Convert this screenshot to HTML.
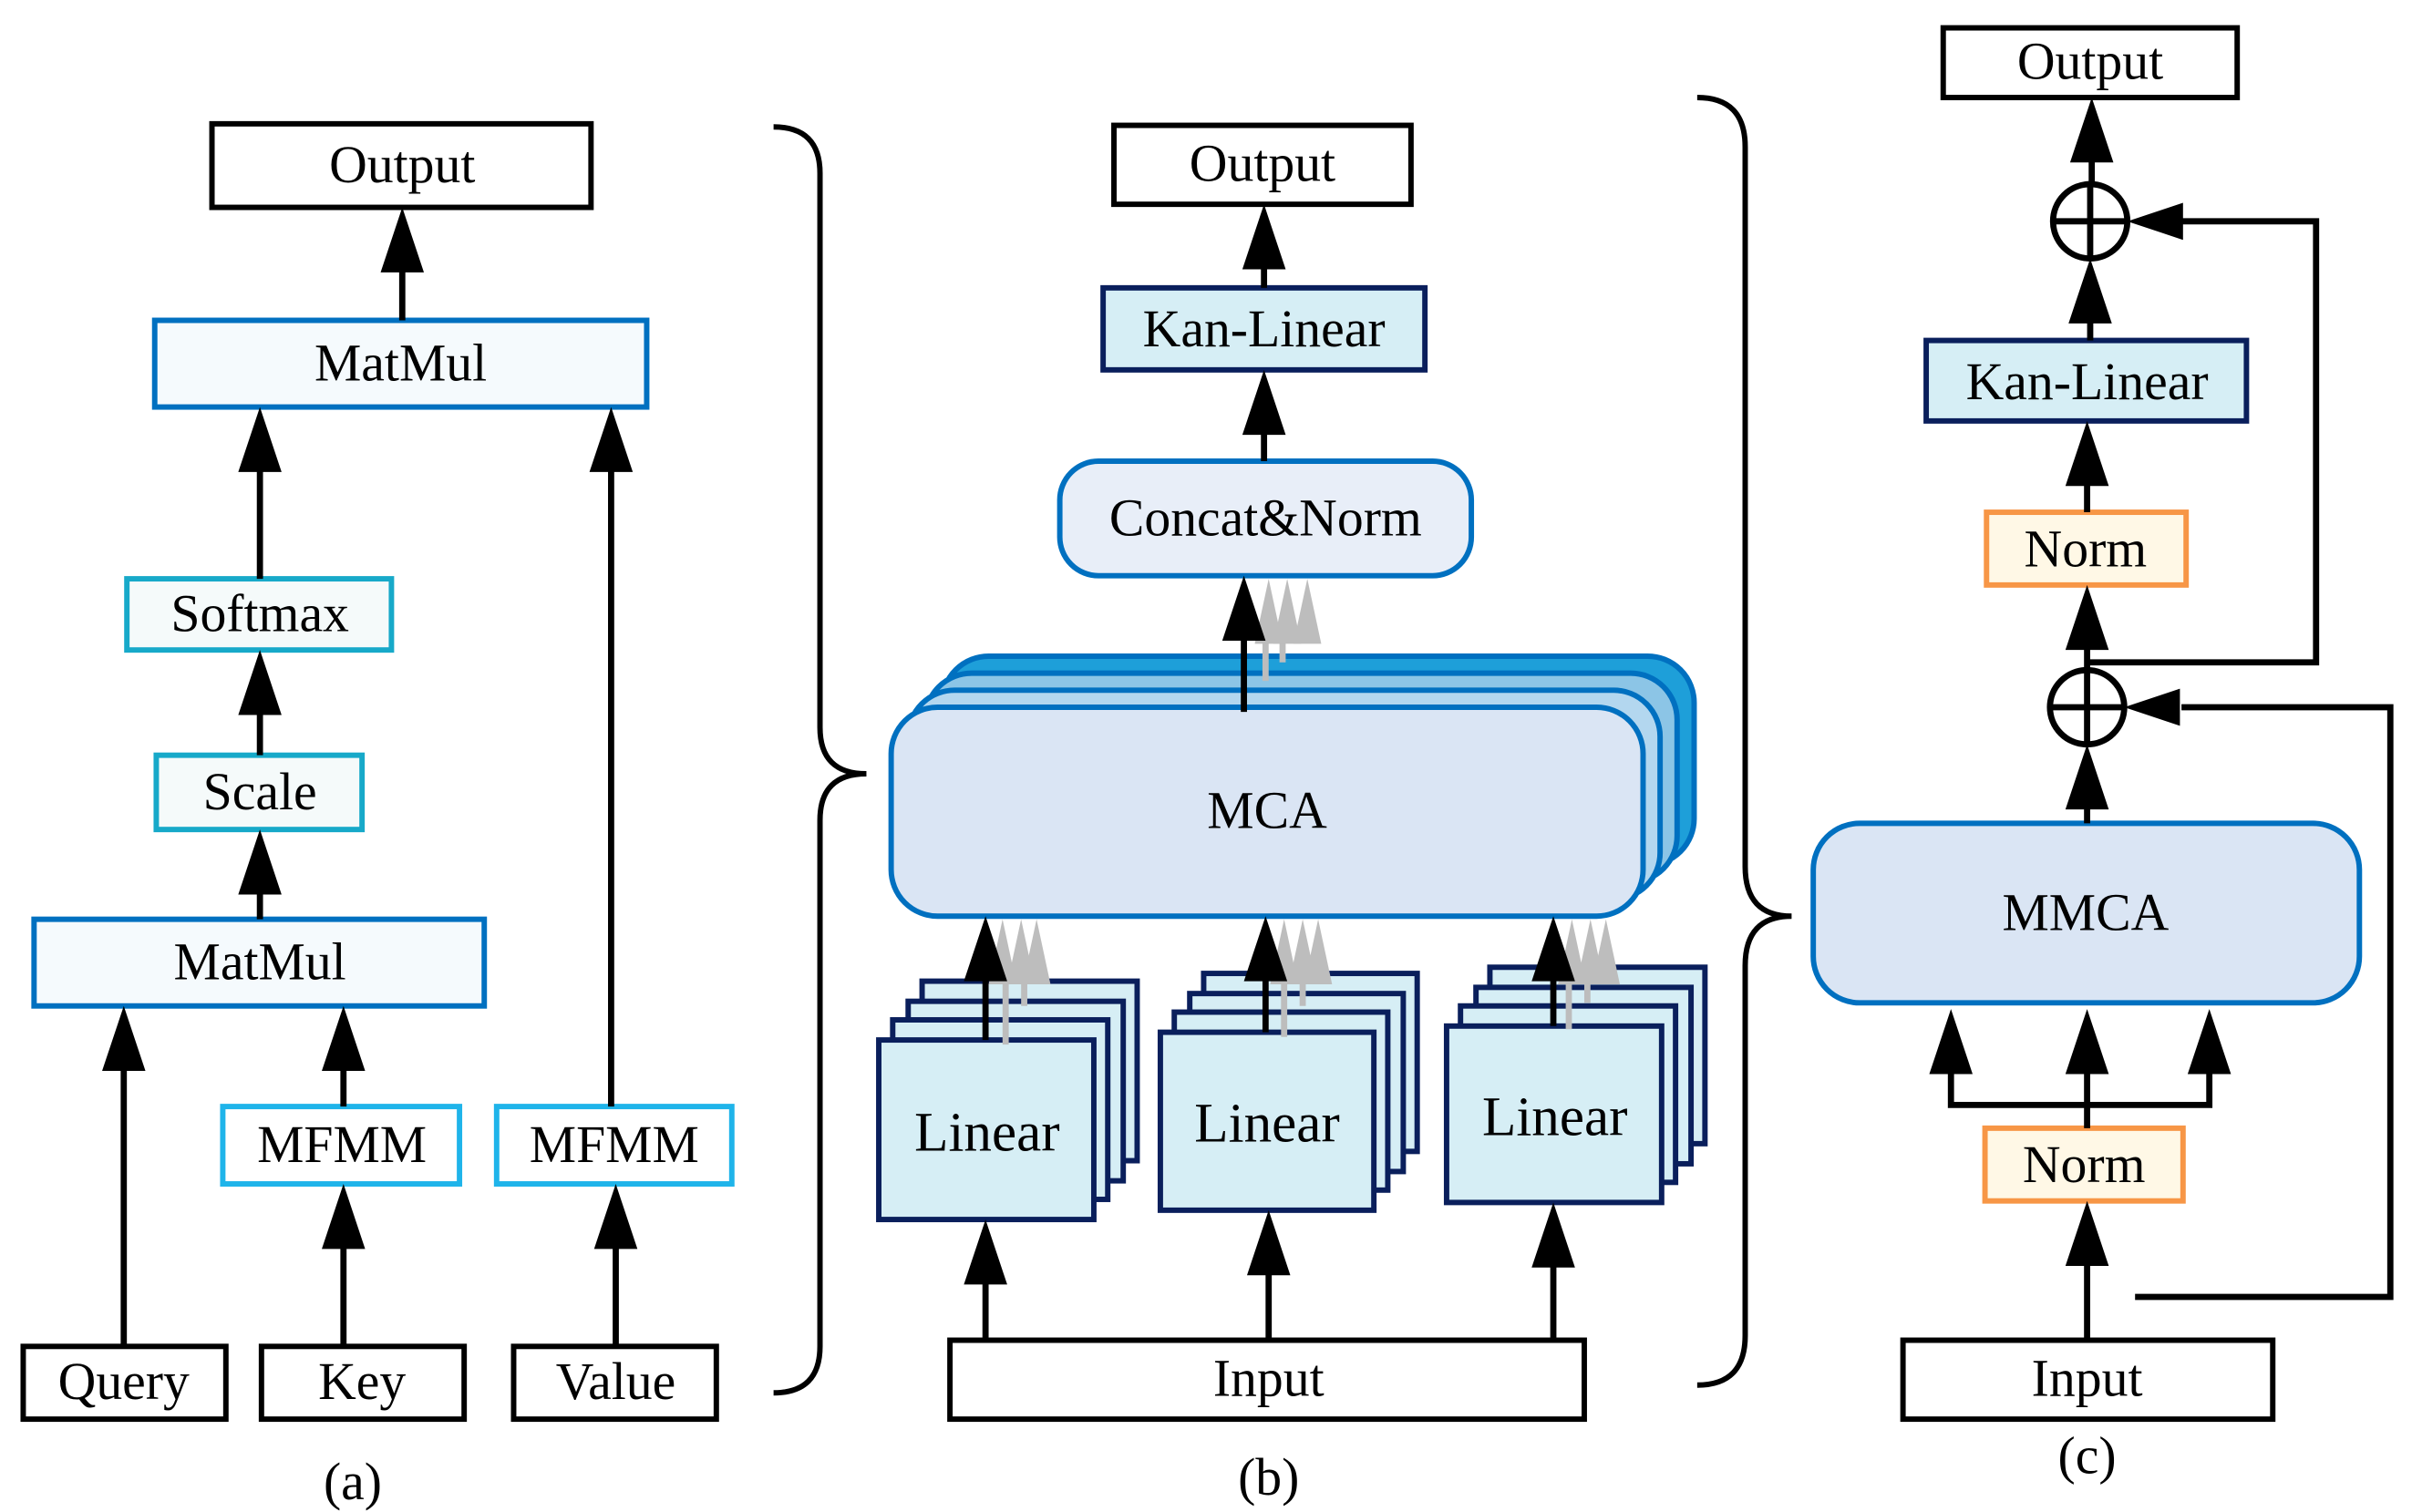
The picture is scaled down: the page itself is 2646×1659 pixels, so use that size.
<!DOCTYPE html>
<html><head><meta charset="utf-8"><style>
html,body{margin:0;padding:0;background:#fff}
svg{display:block}
text{font-family:"Liberation Serif",serif;font-size:34px;fill:#000;text-anchor:middle;dominant-baseline:central}
text.big{font-size:36px}
</style></head><body>
<svg width="2646" height="1659" viewBox="0 0 1559 977" preserveAspectRatio="none" xmlns="http://www.w3.org/2000/svg">
<defs>
<g id="ah"><polygon points="-14,42 14,42 0,0" fill="#000"/></g>
<g id="gh"><polygon points="-9,42 9,42 0,0" fill="#bdbdbd"/></g>
</defs>
<!-- ========== (a) ========== -->
<g stroke-width="3.5" fill="none">
<rect x="137" y="80" width="245" height="54" stroke="#000" fill="#fff"/>
<rect x="100" y="207" width="318" height="56" stroke="#0070c0" fill="#f5fafd"/>
<rect x="82" y="374" width="171" height="46" stroke="#17a9c9" fill="#f5fafa"/>
<rect x="101" y="488" width="133" height="48" stroke="#17a9c9" fill="#f5fafa"/>
<rect x="22" y="594" width="291" height="56" stroke="#0070c0" fill="#f5fafd"/>
<rect x="144" y="715" width="153" height="50" stroke="#1fb4ea" fill="#fff"/>
<rect x="321" y="715" width="152" height="50" stroke="#1fb4ea" fill="#fff"/>
<rect x="15" y="870" width="131" height="47" stroke="#000" fill="#fff"/>
<rect x="169" y="870" width="131" height="47" stroke="#000" fill="#fff"/>
<rect x="332" y="870" width="131" height="47" stroke="#000" fill="#fff"/>
</g>
<g stroke="#000" stroke-width="4">
<line x1="260" y1="207" x2="260" y2="170"/>
<line x1="168" y1="374" x2="168" y2="300"/>
<line x1="168" y1="488" x2="168" y2="455"/>
<line x1="168" y1="594" x2="168" y2="572"/>
<line x1="80" y1="870" x2="80" y2="690"/>
<line x1="222" y1="870" x2="222" y2="800"/>
<line x1="222" y1="715" x2="222" y2="690"/>
<line x1="398" y1="870" x2="398" y2="800"/>
<line x1="395" y1="715" x2="395" y2="300"/>
</g>
<use href="#ah" x="260" y="134"/>
<use href="#ah" x="168" y="263"/>
<use href="#ah" x="168" y="420"/>
<use href="#ah" x="168" y="536"/>
<use href="#ah" x="80" y="650"/>
<use href="#ah" x="222" y="765"/>
<use href="#ah" x="222" y="650"/>
<use href="#ah" x="398" y="765"/>
<use href="#ah" x="395" y="263"/>
<text x="260" y="107">Output</text>
<text x="259" y="235">MatMul</text>
<text x="168" y="397">Softmax</text>
<text x="168" y="512">Scale</text>
<text x="168" y="622">MatMul</text>
<text x="221" y="740">MFMM</text>
<text x="397" y="740">MFMM</text>
<text x="80" y="893">Query</text>
<text x="234" y="893">Key</text>
<text x="398" y="893">Value</text>
<text x="228" y="958">(a)</text>
<!-- braces -->
<path d="M500,82 Q530,82 530,112 L530,470 Q530,500 560,500 Q530,500 530,530 L530,870 Q530,900 500,900" stroke="#000" stroke-width="3.5" fill="none"/>
<path d="M1097,63 Q1128,63 1128,95 L1128,560 Q1128,592 1158,592 Q1128,592 1128,624 L1128,863 Q1128,895 1097,895" stroke="#000" stroke-width="3.5" fill="none"/>
<!-- ========== (b) ========== -->
<g stroke-width="3.5">
<rect x="720" y="81" width="192" height="51" stroke="#000" fill="#fff"/>
<rect x="713" y="186" width="208" height="53" stroke="#0a1f5c" fill="#d6eef5"/>
<rect x="685" y="298" width="266" height="74" rx="25" stroke="#0070c0" fill="#e8eef8"/>
<rect x="609" y="424" width="486" height="135" rx="30" stroke="#0070c0" fill="#1e9fd9"/>
<rect x="598" y="435" width="486" height="135" rx="30" stroke="#0070c0" fill="#8cc5e6"/>
<rect x="587" y="446" width="486" height="135" rx="30" stroke="#0070c0" fill="#b3d7ef"/>
<rect x="576" y="457" width="486" height="135" rx="30" stroke="#0070c0" fill="#dae5f4"/>
<rect x="614" y="866" width="410" height="51" stroke="#000" fill="#fff"/>
</g>
<g stroke="#0a1f5c" stroke-width="3.5" fill="#d6eef5">
<rect x="596" y="634" width="139" height="116"/>
<rect x="587" y="647" width="139" height="116"/>
<rect x="577" y="659" width="139" height="116"/>
<rect x="568" y="672" width="139" height="116"/>
<rect x="778" y="629" width="138" height="115"/>
<rect x="769" y="642" width="138" height="115"/>
<rect x="759" y="654" width="138" height="115"/>
<rect x="750" y="667" width="138" height="115"/>
<rect x="963" y="625" width="139" height="114"/>
<rect x="954" y="638" width="139" height="114"/>
<rect x="944" y="650" width="139" height="114"/>
<rect x="935" y="663" width="139" height="114"/>
</g>
<g stroke="#bdbdbd" stroke-width="4">
<line x1="818" y1="440" x2="818" y2="412"/><line x1="829" y1="428" x2="829" y2="412"/>
<line x1="650" y1="675" x2="650" y2="630"/><line x1="662" y1="650" x2="662" y2="630"/>
<line x1="830" y1="670" x2="830" y2="630"/><line x1="842" y1="650" x2="842" y2="630"/>
<line x1="1014" y1="665" x2="1014" y2="630"/><line x1="1026" y1="648" x2="1026" y2="630"/>
</g>
<use href="#gh" x="820" y="374"/><use href="#gh" x="832" y="374"/><use href="#gh" x="845" y="374"/>
<use href="#gh" x="648" y="594"/><use href="#gh" x="660" y="594"/><use href="#gh" x="670" y="594"/>
<use href="#gh" x="830" y="594"/><use href="#gh" x="842" y="594"/><use href="#gh" x="852" y="594"/>
<use href="#gh" x="1016" y="594"/><use href="#gh" x="1028" y="594"/><use href="#gh" x="1038" y="594"/>
<g stroke="#000" stroke-width="4">
<line x1="817" y1="186" x2="817" y2="170"/>
<line x1="817" y1="298" x2="817" y2="275"/>
<line x1="804" y1="460" x2="804" y2="410"/>
<line x1="637" y1="866" x2="637" y2="825"/>
<line x1="820" y1="866" x2="820" y2="820"/>
<line x1="1004" y1="866" x2="1004" y2="815"/>
<line x1="637" y1="672" x2="637" y2="630"/>
<line x1="818" y1="667" x2="818" y2="630"/>
<line x1="1004" y1="663" x2="1004" y2="630"/>
</g>
<use href="#ah" x="817" y="132"/>
<use href="#ah" x="817" y="239"/>
<use href="#ah" x="804" y="372"/>
<use href="#ah" x="637" y="788"/>
<use href="#ah" x="820" y="782"/>
<use href="#ah" x="1004" y="777"/>
<use href="#ah" x="637" y="592"/>
<use href="#ah" x="818" y="592"/>
<use href="#ah" x="1004" y="592"/>
<text x="816" y="106">Output</text>
<text x="817" y="213">Kan-Linear</text>
<text x="818" y="335">Concat&amp;Norm</text>
<text x="819" y="524">MCA</text>
<text class="big" x="638" y="732">Linear</text>
<text class="big" x="819" y="726">Linear</text>
<text class="big" x="1005" y="722">Linear</text>
<text x="820" y="891">Input</text>
<text x="820" y="955">(b)</text>
<!-- ========== (c) ========== -->
<g stroke-width="3.5">
<rect x="1256" y="18" width="190" height="45" stroke="#000" fill="#fff"/>
<rect x="1245" y="220" width="207" height="52" stroke="#0a1f5c" fill="#d6eef5"/>
<rect x="1284" y="331" width="129" height="47" stroke="#f79646" fill="#fff8e6"/>
<rect x="1172" y="532" width="353" height="116" rx="30" stroke="#0070c0" fill="#dae5f4"/>
<rect x="1283" y="729" width="128" height="47" stroke="#f79646" fill="#fff8e6"/>
<rect x="1230" y="866" width="239" height="51" stroke="#000" fill="#fff"/>
</g>
<g stroke="#000" stroke-width="4" fill="none">
<circle cx="1351" cy="143" r="24" fill="#fff"/>
<line x1="1327" y1="143" x2="1375" y2="143"/><line x1="1351" y1="119" x2="1351" y2="167"/>
<circle cx="1349" cy="457" r="24" fill="#fff"/>
<line x1="1325" y1="457" x2="1373" y2="457"/><line x1="1349" y1="433" x2="1349" y2="481"/>
<line x1="1352" y1="119" x2="1352" y2="100"/>
<line x1="1351" y1="220" x2="1351" y2="205"/>
<line x1="1349" y1="331" x2="1349" y2="310"/>
<line x1="1349" y1="433" x2="1349" y2="415"/>
<line x1="1349" y1="532" x2="1349" y2="515"/>
<polyline points="1349,428 1497,428 1497,143 1410,143"/>
<polyline points="1380,838 1545,838 1545,457 1410,457"/>
<polyline points="1261,690 1261,714 1428,714 1428,690"/>
<line x1="1349" y1="729" x2="1349" y2="690"/>
<line x1="1349" y1="866" x2="1349" y2="815"/>
</g>
<polygon points="1375,143 1411,131 1411,155" fill="#000"/>
<polygon points="1373,457 1409,445 1409,469" fill="#000"/>
<use href="#ah" x="1352" y="63"/>
<use href="#ah" x="1351" y="167"/>
<use href="#ah" x="1349" y="272"/>
<use href="#ah" x="1349" y="378"/>
<use href="#ah" x="1349" y="481"/>
<use href="#ah" x="1261" y="652"/>
<use href="#ah" x="1349" y="652"/>
<use href="#ah" x="1428" y="652"/>
<use href="#ah" x="1349" y="776"/>
<text x="1351" y="40">Output</text>
<text x="1349" y="247">Kan-Linear</text>
<text x="1348" y="355">Norm</text>
<text x="1348" y="590">MMCA</text>
<text x="1347" y="753">Norm</text>
<text x="1349" y="891">Input</text>
<text x="1349" y="941">(c)</text>
</svg>
</body></html>
